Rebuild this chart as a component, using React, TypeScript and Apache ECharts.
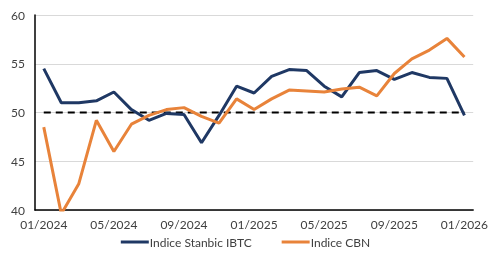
import React, { useEffect, useRef } from "react";
import * as echarts from "echarts";

const months = [
  "01/2024", "02/2024", "03/2024", "04/2024", "05/2024", "06/2024", "07/2024", "08/2024",
  "09/2024", "10/2024", "11/2024", "12/2024", "01/2025", "02/2025", "03/2025", "04/2025",
  "05/2025", "06/2025", "07/2025", "08/2025", "09/2025", "10/2025", "11/2025", "12/2025", "01/2026",
];
const stanbic = [
  54.5, 51.0, 51.0, 51.2, 52.1, 50.3, 49.2, 49.9, 49.8, 46.9, 49.7, 52.7, 52.0,
  53.7, 54.4, 54.3, 52.7, 51.6, 54.1, 54.3, 53.4, 54.1, 53.6, 53.5, 49.7,
];
const cbn = [
  48.5, 39.6, 42.7, 49.2, 46.0, 48.8, 49.7, 50.3, 50.5, 49.6, 48.9, 51.4, 50.3,
  51.4, 52.3, 52.2, 52.1, 52.4, 52.6, 51.7, 54.0, 55.5, 56.4, 57.6, 55.7,
];
const threshold = months.map(() => 50);
const seriesNames = ["Indice Stanbic IBTC", "Indice CBN"];

export default function App() {
  const ref = useRef<HTMLDivElement>(null);
  useEffect(() => {
    if (!ref.current) return;
    const chart = echarts.init(ref.current, undefined, { renderer: "svg" });
    const font = "Lato, 'Open Sans', sans-serif";
    chart.setOption({
      animation: false,
      grid: { left: 35, right: 16, top: 15, bottom: 55 },
      legend: {
        data: seriesNames,
        bottom: 12,
        left: "center",
        icon: "rect",
        itemWidth: 28,
        itemHeight: 3,
        itemGap: 30,
        textStyle: { fontFamily: font, fontSize: 12, color: "#404040", padding: [0, 0, 0, -4] },
      },
      xAxis: {
        type: "category",
        data: months,
        boundaryGap: true,
        axisLine: { lineStyle: { color: "#000", width: 1.5 } },
        axisTick: { show: false },
        axisLabel: { interval: 3, fontFamily: font, fontSize: 12, color: "#404040", margin: 8 },
      },
      yAxis: {
        type: "value",
        min: 40,
        max: 60,
        interval: 5,
        axisLine: { show: true, lineStyle: { color: "#000", width: 1.5 } },
        axisTick: { show: false },
        splitLine: { lineStyle: { color: "#d9d9d9", width: 1 } },
        axisLabel: { fontFamily: font, fontSize: 12, color: "#404040", margin: 10 },
      },
      series: [
        {
          name: seriesNames[0],
          type: "line",
          data: stanbic,
          symbol: "none",
          z: 3,
          lineStyle: { color: "#1f3864", width: 3 },
          itemStyle: { color: "#1f3864" },
        },
        {
          name: seriesNames[1],
          type: "line",
          data: cbn,
          symbol: "none",
          z: 4,
          lineStyle: { color: "#e8833a", width: 3 },
          itemStyle: { color: "#e8833a" },
        },
        {
          name: "50",
          type: "line",
          data: threshold,
          symbol: "none",
          z: 2,
          lineStyle: { color: "#000", width: 2, type: [7, 5] },
        },
      ],
    });
    return () => chart.dispose();
  }, []);
  return (
    <div
      ref={ref}
      style={{ position: "fixed", left: 0, top: 0, width: 491, height: 265 }}
    />
  );
}
